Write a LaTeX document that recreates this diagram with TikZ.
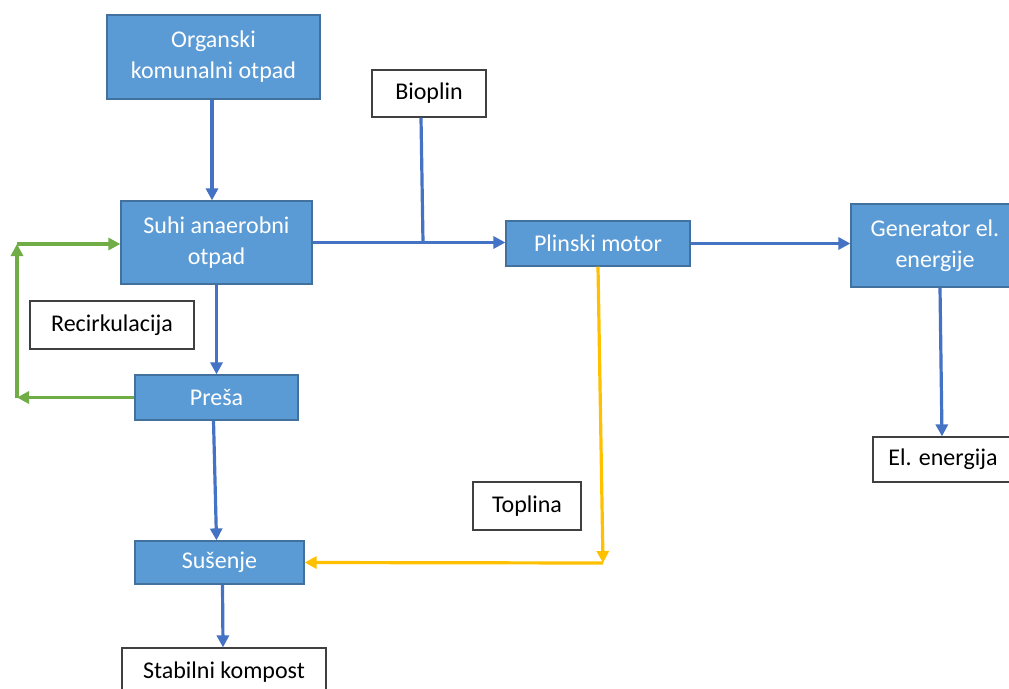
\documentclass[tikz,border=0pt]{standalone}
\usepackage{fontspec}
\setmainfont{Carlito}
\usetikzlibrary{arrows.meta, positioning, calc}

\definecolor{boxblue}{HTML}{5B9BD5}
\definecolor{boxedge}{HTML}{41719C}
\definecolor{flowblue}{HTML}{4472C4}
\definecolor{flowgreen}{HTML}{70AD47}
\definecolor{flowgold}{HTML}{FFC000}

\begin{document}
\begin{tikzpicture}[
  x=1pt, y=-1pt,
  >={Triangle[length=12pt, width=12pt]},
  every node/.style={font=\fontsize{24}{31}\selectfont, align=center, inner sep=0pt},
  stage/.style={draw=boxedge, line width=1.2pt, fill=boxblue, text=white},
  tag/.style={draw=black!75, line width=1.2pt, fill=white, text=black},
  flow/.style={->, flowblue, line width=3.2pt},
  loopback/.style={->, flowgreen, line width=3.2pt},
  heat/.style={->, flowgold, line width=3.2pt}
]
  \useasboundingbox (0,0) rectangle (1009,688);

  % process stages
  \node[stage, minimum width=213pt, minimum height=84pt] (org)   at (213.5,57)   {Organski\\komunalni otpad};
  \node[stage, minimum width=191pt, minimum height=83pt] (suhi)  at (216.5,242.5) {Suhi anaerobni\\otpad};
  \node[stage, minimum width=184pt, minimum height=45pt] (plin)  at (598,243.5)  {Plinski motor};
  \node[stage, minimum width=168pt, minimum height=83pt] (gen)   at (935,245.5)  {Generator el.\\energije};
  \node[stage, minimum width=163pt, minimum height=45pt] (presa) at (216.5,397.5) {Preša};
  \node[stage, minimum width=169pt, minimum height=43pt] (sus)   at (219.5,562.5) {Sušenje};

  % labels / products
  \node[tag, minimum width=114pt, minimum height=47pt] (bio)   at (429,93.5) {Bioplin};
  \node[tag, minimum width=164pt, minimum height=48pt] (rec)   at (112,325)  {Recirkulacija};
  \node[tag, minimum width=108pt, minimum height=48pt] (topl)  at (527,506)  {Toplina};
  \node[tag, minimum width=140pt, minimum height=45pt] (elen)  at (943,459.5) {El. energija};
  \node[tag, minimum width=204pt, minimum height=48pt] (stab)  at (224,672)  {Stabilni kompost};

  \coordinate (jn) at ([xshift=-6pt]bio.south |- suhi.east);
  \coordinate (gb) at (17,397.5);
  \coordinate (gt) at (17,244);
  \coordinate (yc) at (603,563);

  % main line
  \draw[flow] ([xshift=-1.5pt]org.south) -- ([xshift=-4.5pt]suhi.north);
  \draw[flow] (suhi.east) -- (suhi.east -| plin.west);
  \draw[flowblue, line width=3.2pt] ([xshift=-8pt]bio.south) -- (jn);
  \draw[flow] (plin.east) -- (plin.east -| gen.west);
  \draw[flow] ([xshift=5pt]gen.south) -- ([xshift=-1pt]elen.north);
  \draw[flow] (suhi.south) -- (presa.north);
  \draw[flow] ([xshift=-3pt]presa.south) -- (presa.south |- sus.north);
  \draw[flow] ([xshift=3pt]sus.south) -- ([xshift=-1pt]stab.north);

  % recirculation
  \draw[loopback] (presa.west) -- (gb);
  \draw[loopback] (gb) -- (gt);
  \draw[loopback] (gt) -- (gt -| suhi.west);

  % heat
  \draw[heat] (plin.south) -- (yc);
  \draw[heat] (yc) -- (sus.east);
\end{tikzpicture}
\end{document}
